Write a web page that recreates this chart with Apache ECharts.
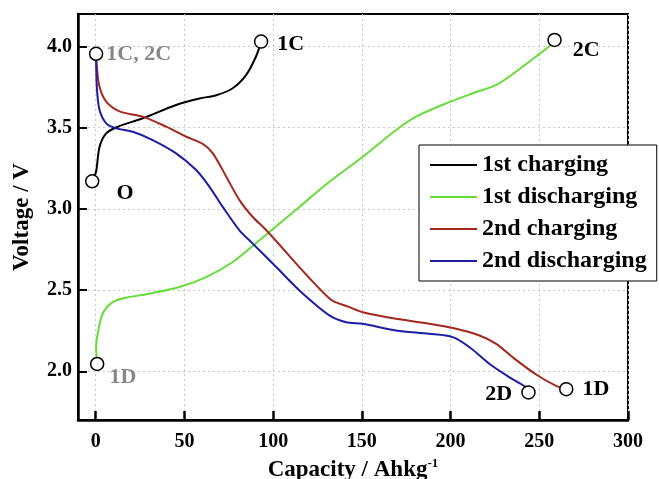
<!DOCTYPE html>
<html>
<head>
<meta charset="utf-8">
<script src="https://cdn.jsdelivr.net/npm/echarts@6/dist/echarts.min.js"></script>
<style>
  html, body { margin: 0; padding: 0; background: #fff; }
  #main { width: 659px; height: 479px; }
</style>
</head>
<body>
<div id="main"></div>
<script>
// 数据：每条曲线为 [容量, 电压]
var charge1 = [[-2, 3.17], [0.2, 3.23], [2.1, 3.38], [5.9, 3.465], [12.4, 3.506], [26.5, 3.558],
  [45.3, 3.64], [58.5, 3.68], [67.9, 3.70], [77.2, 3.743], [84.8, 3.825], [90.4, 3.94], [93.2, 4.03]];
var discharge1 = [[0.8, 2.045], [0.2, 2.148], [1.1, 2.23], [3.9, 2.354], [9.6, 2.426], [17.1, 2.453],
  [30.3, 2.478], [47.2, 2.519], [62.2, 2.58], [77.2, 2.673], [92.3, 2.807], [114.8, 3.012],
  [131.7, 3.167], [150.5, 3.321], [169.3, 3.486], [180.6, 3.568], [197.5, 3.65], [212.5, 3.712],
  [225.7, 3.763], [237, 3.846], [248.2, 3.938], [257.6, 4.02], [258.6, 4.04]];
var charge2 = [[0.2, 3.955], [0.6, 3.877], [2.1, 3.753], [5.9, 3.66], [13.4, 3.60], [26.5, 3.568],
  [39.7, 3.506], [51, 3.444], [60.3, 3.40], [66, 3.342], [73.5, 3.20], [81, 3.054], [88.5, 2.95],
  [96, 2.87], [131.9, 2.446], [143, 2.395], [150.5, 2.364], [169.3, 2.323], [188, 2.293],
  [203.2, 2.262], [216.3, 2.22], [225.7, 2.169], [235, 2.086], [248.2, 1.98], [259.5, 1.91], [265.2, 1.89]];
var discharge2 = [[0.2, 3.955], [0.6, 3.753], [2.1, 3.61], [5.9, 3.527], [11.5, 3.496], [20.9, 3.475],
  [32.1, 3.424], [45.3, 3.342], [56.6, 3.239], [64.1, 3.136], [71.6, 3.012], [81, 2.868],
  [88.5, 2.786], [101.7, 2.642], [114.8, 2.498], [131.7, 2.344], [141.1, 2.302], [150.5, 2.292],
  [169.3, 2.251], [188, 2.231], [201.2, 2.21], [210.7, 2.148], [222, 2.045], [233.2, 1.963],
  [242.6, 1.901], [243.9, 1.87]];

var seriesNames = ['1st charging', '1st discharging', '2nd charging', '2nd discharging'];
var seriesColors = ['#000000', '#66dd3a', '#a3281e', '#1c1ca6'];

// 标记点
var markPoints = [[-2, 3.17], [0.2, 3.955], [93.2, 4.03], [258.6, 4.04], [0.8, 2.045], [243.9, 1.87], [265.2, 1.89]];
var markTexts = ['O', '1C, 2C', '1C', '2C', '1D', '2D', '1D'];

var xTicks = [0, 50, 100, 150, 200, 250, 300];
var yTicks = [2.0, 2.5, 3.0, 3.5, 4.0];

var font = 'Liberation Serif';
var grey = '#888888';
// 标签位置与颜色
var labelSet = [
  { position: 'right', offset: [12, 12], color: '#000' },
  { position: 'right', offset: [-2, 1], color: grey },
  { position: 'right', offset: [4, 3], color: '#000' },
  { position: 'right', offset: [6, 10], color: '#000' },
  { position: 'right', offset: [0, 13], color: grey },
  { position: 'left', offset: [-4, 2], color: '#000' },
  { position: 'right', offset: [4, 0], color: '#000' }
];

var myChart = echarts.init(document.getElementById('main'));

var series = [charge1, discharge1, charge2, discharge2].map(function (d, i) {
  return {
    name: seriesNames[i],
    type: 'line',
    data: d,
    smooth: 0.3,
    symbol: 'none',
    lineStyle: { color: seriesColors[i], width: 2 },
    itemStyle: { color: seriesColors[i] },
    z: 3
  };
});

series.push({
  name: 'points',
  type: 'scatter',
  symbol: 'circle',
  symbolSize: 13,
  z: 5,
  itemStyle: { color: '#fff', borderColor: '#000', borderWidth: 1.5, opacity: 1 },
  data: markPoints.map(function (p, i) {
    return {
      value: p,
      label: {
        show: true,
        formatter: markTexts[i],
        position: labelSet[i].position,
        offset: labelSet[i].offset,
        color: labelSet[i].color,
        fontFamily: font,
        fontWeight: 'bold',
        fontSize: 22
      }
    };
  })
});

var option = {
  backgroundColor: '#fff',
  animation: false,
  grid: {
    left: 78, right: 31, top: 14, bottom: 59,
    outerBoundsMode: 'none',
    show: true, borderColor: '#000', borderWidth: 2
  },
  legend: {
    data: seriesNames,
    orient: 'vertical',
    left: 419,
    top: 145,
    itemWidth: 47,
    itemHeight: 2,
    itemGap: 8,
    padding: [8, 10, 8, 10],
    backgroundColor: '#fff',
    borderColor: '#000',
    borderWidth: 1,
    textStyle: { fontFamily: font, fontWeight: 'bold', fontSize: 24, color: '#000' }
  },
  xAxis: {
    type: 'value',
    min: -10,
    max: 300,
    name: 'Capacity / Ahkg{s|-1}',
    nameLocation: 'middle',
    nameGap: 34,
    nameTextStyle: {
      fontFamily: font, fontWeight: 'bold', fontSize: 23, color: '#000',
      rich: { s: { fontFamily: font, fontWeight: 'bold', fontSize: 13, color: '#000', padding: [0, 0, 14, 0] } }
    },
    axisLine: { onZero: false, lineStyle: { color: '#000', width: 2.5 } },
    axisTick: { inside: true, length: 9, customValues: xTicks, lineStyle: { color: '#000', width: 2.5 } },
    axisLabel: { customValues: xTicks, margin: 12, fontFamily: font, fontWeight: 'bold', fontSize: 20, color: '#000' },
    splitLine: { show: true, lineStyle: { color: '#c8c8c8', type: [2, 3], width: 1 } }
  },
  yAxis: {
    type: 'value',
    min: 1.7,
    max: 4.2,
    name: 'Voltage / V',
    nameLocation: 'middle',
    nameGap: 44,
    nameTextStyle: { fontFamily: font, fontWeight: 'bold', fontSize: 23, color: '#000' },
    axisLine: { onZero: false, lineStyle: { color: '#000', width: 2.5 } },
    axisTick: { inside: true, length: 9, customValues: yTicks, lineStyle: { color: '#000', width: 2 } },
    axisLabel: {
      customValues: yTicks, margin: 6, fontFamily: font, fontWeight: 'bold', fontSize: 20, color: '#000',
      formatter: function (v) { return v.toFixed(1); }
    },
    splitLine: { show: true, lineStyle: { color: '#c8c8c8', type: [2, 3], width: 1 } }
  },
  series: series
};

myChart.setOption(option);
window.onresize = myChart.resize;
</script>
</body>
</html>
